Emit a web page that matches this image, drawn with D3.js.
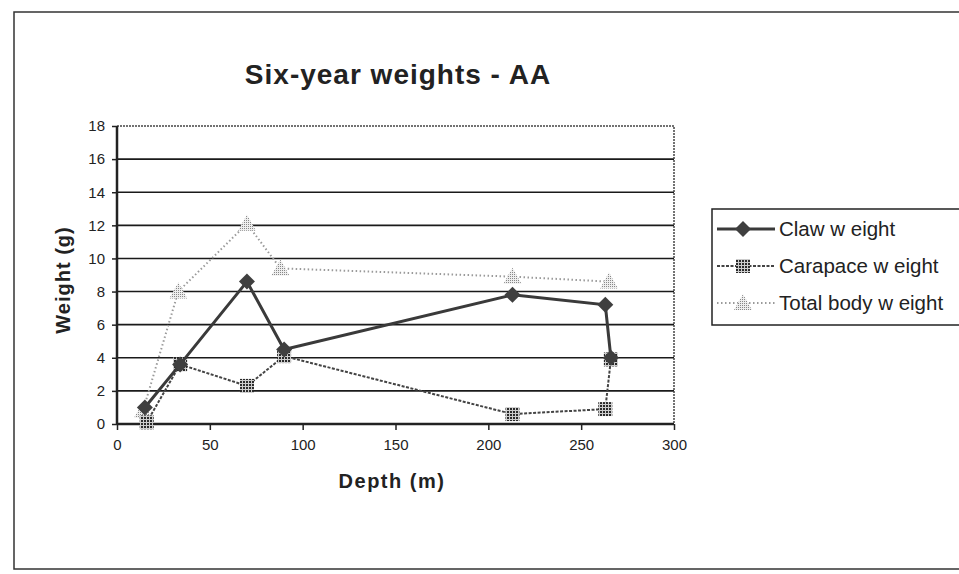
<!DOCTYPE html>
<html>
<head>
<meta charset="utf-8">
<script src="https://cdn.jsdelivr.net/npm/d3@7"></script>
<style>
  body { margin: 0; background: #fff; }
  text { font-family: "Liberation Sans", Arial, sans-serif; fill: #222; }
</style>
</head>
<body>
<div id="chart"></div>
<script>
// Datos
const claw = [[15, 1.0], [34, 3.6], [70, 8.6], [90, 4.5], [213, 7.8], [263, 7.2], [266, 4.0]];
const carapace = [[16, 0.1], [34, 3.6], [70, 2.3], [90, 4.1], [213, 0.6], [263, 0.9], [266, 3.9]];
const total = [[14, 0.8], [33, 8.0], [70, 12.1], [88, 9.4], [213, 8.9], [265, 8.6]];
const seriesNames = ["Claw  w eight", "Carapace w eight", "Total body w eight"];
const xTicks = [0, 50, 100, 150, 200, 250, 300];
const yTicks = [0, 2, 4, 6, 8, 10, 12, 14, 16, 18];

const width = 959, height = 574;
const plot = { left: 117, right: 674, top: 126, bottom: 424 };

const svg = d3.select("#chart").append("svg")
    .attr("width", width)
    .attr("height", height);

// Marco exterior
svg.append("rect")
    .attr("x", 14).attr("y", 12)
    .attr("width", 960).attr("height", 557)
    .attr("fill", "none")
    .attr("stroke", "#333")
    .attr("stroke-width", 1.5);

const x = d3.scaleLinear().domain([0, 300]).range([plot.left, plot.right]);
const y = d3.scaleLinear().domain([0, 18]).range([plot.bottom, plot.top]);

// Líneas de cuadrícula
svg.append("g")
    .selectAll("line")
    .data(yTicks.filter(d => d > 0 && d < 18))
    .join("line")
    .attr("x1", plot.left).attr("x2", plot.right)
    .attr("y1", d => y(d)).attr("y2", d => y(d))
    .attr("stroke", "#1a1a1a")
    .attr("stroke-width", 1.6);

// Borde superior y derecho punteado
svg.append("path")
    .attr("d", `M${plot.left},${plot.top}H${plot.right}V${plot.bottom}`)
    .attr("fill", "none")
    .attr("stroke", "#444")
    .attr("stroke-width", 1.5)
    .attr("stroke-dasharray", "2,1");

// Ejes
const xAxis = d3.axisBottom(x).tickValues(xTicks).tickSize(6).tickPadding(9);
const yAxis = d3.axisLeft(y).tickValues(yTicks).tickSize(5).tickPadding(7);

const gx = svg.append("g")
    .attr("transform", `translate(0,${plot.bottom})`)
    .call(xAxis);
const gy = svg.append("g")
    .attr("transform", `translate(${plot.left},0)`)
    .call(yAxis);

[gx, gy].forEach(g => {
    g.select(".domain").attr("stroke", "#222").attr("stroke-width", 2.5);
    g.selectAll(".tick line").attr("stroke", "#222").attr("stroke-width", 1.5);
    g.selectAll(".tick text")
        .style("font-size", "15px")
        .style("font-family", "'Liberation Sans', Arial, sans-serif")
        .attr("fill", "#222");
});
gx.select(".domain").attr("d", `M${plot.left},0H${plot.right}`);
gy.select(".domain").attr("d", `M0,${plot.bottom}V${plot.top}`);

// Título
svg.append("text")
    .attr("x", 398)
    .attr("y", 84)
    .attr("text-anchor", "middle")
    .style("font-size", "28px")
    .style("font-weight", "bold")
    .style("letter-spacing", "1px")
    .attr("fill", "#333")
    .text("Six-year weights - AA");

// Etiquetas de ejes
svg.append("text")
    .attr("x", 392)
    .attr("y", 488)
    .attr("text-anchor", "middle")
    .style("font-size", "20px")
    .style("font-weight", "bold")
    .style("letter-spacing", "1.5px")
    .attr("fill", "#333")
    .text("Depth (m)");

svg.append("text")
    .attr("transform", "translate(70,280) rotate(-90)")
    .attr("text-anchor", "middle")
    .style("font-size", "20px")
    .style("font-weight", "bold")
    .style("letter-spacing", "1px")
    .attr("fill", "#333")
    .text("Weight (g)");

// Patrón para los marcadores
const defs = svg.append("defs");
const pat = defs.append("pattern")
    .attr("id", "checker")
    .attr("width", 3).attr("height", 3)
    .attr("patternUnits", "userSpaceOnUse");
pat.append("rect").attr("width", 3).attr("height", 3).attr("fill", "#ccc");
pat.append("rect").attr("width", 2).attr("height", 2).attr("fill", "#2a2a2a");

const dotPat = defs.append("pattern")
    .attr("id", "dots")
    .attr("width", 2).attr("height", 2)
    .attr("patternUnits", "userSpaceOnUse");
dotPat.append("rect").attr("width", 2).attr("height", 2).attr("fill", "#eee");
dotPat.append("rect").attr("width", 1).attr("height", 1).attr("fill", "#888");

const line = d3.line().x(d => x(d[0])).y(d => y(d[1]));

const styles = [
    { data: total, stroke: "#9a9a9a", width: 2, dash: "1.5,2.5", marker: "triangle" },
    { data: carapace, stroke: "#444", width: 2, dash: "3,1.5", marker: "square" },
    { data: claw, stroke: "#3a3a3a", width: 3, dash: null, marker: "diamond" }
];

function drawMarker(g, type, cx, cy) {
    if (type === "diamond") {
        g.append("path")
            .attr("d", `M${cx},${cy - 8}L${cx + 8},${cy}L${cx},${cy + 8}L${cx - 8},${cy}Z`)
            .attr("fill", "#3f3f3f");
    } else if (type === "square") {
        g.append("rect")
            .attr("x", cx - 7).attr("y", cy - 7)
            .attr("width", 14).attr("height", 14)
            .attr("fill", "url(#checker)");
    } else {
        g.append("path")
            .attr("d", `M${cx},${cy - 9}L${cx + 9},${cy + 7}L${cx - 9},${cy + 7}Z`)
            .attr("fill", "url(#dots)");
    }
}

styles.forEach(s => {
    svg.append("path")
        .datum(s.data)
        .attr("d", line)
        .attr("fill", "none")
        .attr("stroke", s.stroke)
        .attr("stroke-width", s.width)
        .attr("stroke-dasharray", s.dash);
    const g = svg.append("g");
    s.data.forEach(d => drawMarker(g, s.marker, x(d[0]), y(d[1])));
});

// Leyenda
const legend = svg.append("g").attr("transform", "translate(712,209)");
legend.append("rect")
    .attr("width", 248).attr("height", 116)
    .attr("fill", "#fff")
    .attr("stroke", "#222")
    .attr("stroke-width", 1.5);

const legendOrder = [styles[2], styles[1], styles[0]];
legendOrder.forEach((s, i) => {
    const ly = 20 + i * 37;
    legend.append("line")
        .attr("x1", 5).attr("x2", 63)
        .attr("y1", ly).attr("y2", ly)
        .attr("stroke", s.stroke)
        .attr("stroke-width", s.width)
        .attr("stroke-dasharray", s.dash);
    drawMarker(legend, s.marker, 31, ly);
    legend.append("text")
        .attr("x", 67)
        .attr("y", ly + 7)
        .style("font-size", "20.5px")
        .text(seriesNames[i]);
});
</script>
</body>
</html>
